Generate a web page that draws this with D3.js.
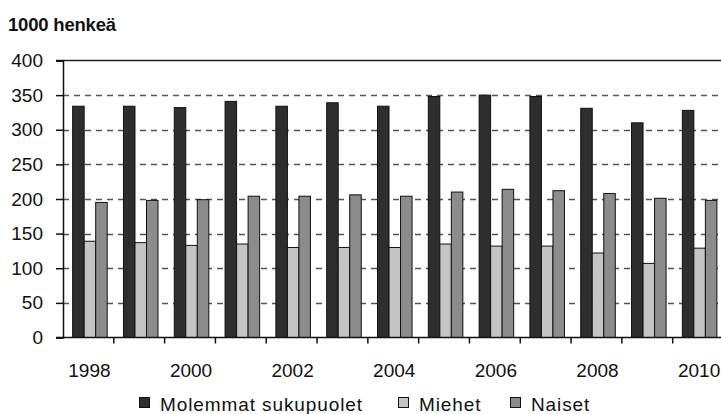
<!DOCTYPE html>
<html><head><meta charset="utf-8">
<script src="https://cdn.jsdelivr.net/npm/d3@7"></script>
<style>
body{margin:0;background:#fff;}
svg{display:block;}
text{font-family:"Liberation Sans",Arial,sans-serif;fill:#111;}
</style></head>
<body><svg id="c" width="721" height="414"></svg>
<script>
const years = ["1998","1999","2000","2001","2002","2003","2004","2005","2006","2007","2008","2009","2010"];
const molemmat = [334,334,332,341,334,339,334,348,350,348,331,310,328];
const miehet   = [139,137,133,135,130,130,130,135,132,132,122,107,129];
const naiset   = [195,198,199,204,204,206,204,210,214,212,208,201,198];
const seriesNames = ["Molemmat sukupuolet","Miehet","Naiset"];
const seriesColors = ["#2e2e2e","#c4c4c4","#8c8c8c"];
const yTicks = [0,50,100,150,200,250,300,350,400];
const xLabels = ["1998","2000","2002","2004","2006","2008","2010"];
const yTitle = "1000 henkeä";

const svg = d3.select("#c");
const mLeft = 63, mTop = 60.5, mBottom = 337.5, mRight = 723.5;
const y = d3.scaleLinear().domain([0,400]).range([mBottom, mTop]);
const x = d3.scaleBand().domain(years).range([mLeft, mRight]).paddingInner(0).paddingOuter(0);
const step = x.bandwidth();
const groupW = step*0.68, groupOff = step*0.19;
const xs = d3.scaleBand().domain([0,1,2]).range([0, groupW]);

// gridlines
svg.append("g").selectAll("line").data(yTicks.filter(t=>t>0 && t<400)).join("line")
  .attr("x1", mLeft).attr("x2", 721).attr("y1", d=>Math.round(y(d))+0.5).attr("y2", d=>Math.round(y(d))+0.5)
  .attr("stroke","#555").attr("stroke-width",1.4).attr("stroke-dasharray","6,5");

// top border
svg.append("line").attr("x1",56).attr("x2",721).attr("y1",y(400)).attr("y2",y(400)).attr("stroke","#222").attr("stroke-width",1.5);

// bars
const series = [molemmat, miehet, naiset];
series.forEach((vals, si) => {
  svg.append("g").selectAll("rect").data(vals).join("rect")
    .attr("x", (d,i)=> x(years[i]) + groupOff + xs(si))
    .attr("y", d=> y(d))
    .attr("width", xs.bandwidth())
    .attr("height", d=> y(0)-y(d))
    .attr("fill", seriesColors[si])
    .attr("stroke", "#111").attr("stroke-width", 1);
});

// y axis
const ya = svg.append("g").attr("transform",`translate(${mLeft},0)`)
  .call(d3.axisLeft(y).tickValues(yTicks).tickSize(7).tickPadding(13).tickFormat(d3.format("d")));
ya.select(".domain").attr("stroke","#111").attr("stroke-width",1.5);
ya.selectAll(".tick line").attr("stroke","#111").attr("stroke-width",1.5);
ya.selectAll("text").attr("font-size","19px").attr("font-family","Liberation Sans, Arial, sans-serif").attr("fill","#111");

// x axis
svg.append("line").attr("x1",56).attr("x2",721).attr("y1",y(0)).attr("y2",y(0)).attr("stroke","#111").attr("stroke-width",1.5);
svg.append("g").selectAll("line").data(years.slice(1)).join("line")
  .attr("x1", d=>x(d)).attr("x2", d=>x(d)).attr("y1", y(0)).attr("y2", y(0)+6)
  .attr("stroke","#111").attr("stroke-width",1.5);
svg.append("g").selectAll("text").data(xLabels).join("text")
  .attr("x", d=> x(d)+step/2 + 1).attr("y", 377)
  .attr("text-anchor","middle").attr("font-size","19px").text(d=>d);

// title
svg.append("text").attr("x",8).attr("y",30.5).attr("font-size","18.5px").attr("font-weight","bold")
  .attr("letter-spacing","-0.2").text(yTitle);

// legend
const legX = [139.5, 398.5, 510.5];
const lg = svg.append("g");
seriesNames.forEach((n,i)=>{
  lg.append("rect").attr("x",legX[i]).attr("y",397.5).attr("width",10).attr("height",10)
    .attr("fill",seriesColors[i]).attr("stroke","#111").attr("stroke-width",1);
  lg.append("text").attr("x",legX[i]+20.5).attr("y",411).attr("font-size","19px")
    .attr("letter-spacing","0.9").text(n);
});
</script>
</body></html>
